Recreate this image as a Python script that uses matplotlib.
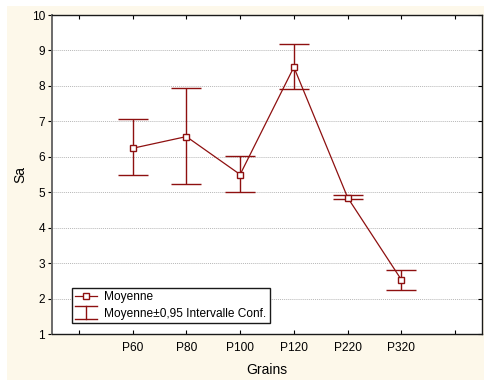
import matplotlib.pyplot as plt
import numpy as np
from matplotlib.legend_handler import HandlerBase
from matplotlib.lines import Line2D
from matplotlib.patches import Rectangle

plt.rcParams['font.family'] = ['Liberation Sans', 'DejaVu Sans']

# Data
grains = ['P60', 'P80', 'P100', 'P120', 'P220', 'P320']
moyenne = [6.24, 6.57, 5.50, 8.53, 4.85, 2.53]
ic_bas = [5.48, 5.24, 5.00, 7.90, 4.80, 2.25]
ic_haut = [7.06, 7.93, 6.02, 9.17, 4.92, 2.81]

red = '#8e1010'
cream = '#fdf8ea'


class HandlerCI(HandlerBase):
    """ 'I' shaped legend key: vertical bar with wide caps """
    def create_artists(self, legend, orig_handle, xdescent, ydescent,
                       width, height, fontsize, trans):
        x0, x1 = -xdescent, -xdescent + width
        xm = (x0 + x1) / 2
        y0, y1 = -ydescent - 0.25 * height, -ydescent + 1.25 * height
        kw = dict(color=red, lw=1.0, transform=trans)
        return [Line2D([xm, xm], [y0, y1], **kw),
                Line2D([x0, x1], [y0, y0], **kw),
                Line2D([x0, x1], [y1, y1], **kw)]


fig = plt.figure(figsize=(4.84, 3.8), dpi=100, facecolor=cream)
# thin white strip on top and left edges
fig.patches.append(Rectangle((0, 0.984), 1, 0.016, transform=fig.transFigure,
                             facecolor='white', edgecolor='none', zorder=0))
fig.patches.append(Rectangle((0, 0), 0.014, 1, transform=fig.transFigure,
                             facecolor='white', edgecolor='none', zorder=0))

ax = fig.add_axes([0.1074, 0.121, 0.8885, 0.8395])
ax.set_facecolor('white')

x = np.arange(1, len(grains) + 1)
means = np.array(moyenne)
yerr = [means - np.array(ic_bas), np.array(ic_haut) - means]

ax.errorbar(x, means, yerr=yerr, fmt='none', ecolor=red, elinewidth=1.0,
            capsize=11, capthick=1.0, zorder=3)
ax.plot(x, means, '-s', color=red, lw=0.9, ms=4, mfc='white', mec=red,
        mew=1.0, zorder=4)

ax.set_xlim(-0.5, 7.5)
ax.set_ylim(1, 10)
ax.set_xticks(np.arange(0, 8))
ax.set_xticklabels([''] + grains + [''], fontsize=8.6)
ax.set_yticks(np.arange(1, 11))
ax.set_yticklabels([str(v) for v in range(1, 11)], fontsize=8.6)
ax.tick_params(axis='x', direction='in', top=True, length=3, width=0.8, pad=6)
ax.tick_params(axis='y', direction='out', length=3, width=0.8, pad=2)
ax.tick_params(axis='y', which='both', right=True)
for t in ax.yaxis.get_ticklines()[1::2]:
    t.set_marker(0)  # right ticks pointing inward

for y in range(2, 10):
    ax.axhline(y, color='#b8b8b8', lw=0.7, ls=(0, (1, 1)), zorder=1)

for s in ax.spines.values():
    s.set_color('#1a1a1a')
    s.set_linewidth(1.0)
ax.spines['left'].set_color('#6a6a6a')
ax.spines['left'].set_linewidth(1.4)

ax.set_xlabel('Grains', fontsize=10, labelpad=6)
ax.set_ylabel('Sa', fontsize=10, labelpad=3)

h1 = Line2D([], [], color=red, lw=0.9, marker='s', ms=4, mfc='white',
            mec=red, mew=1.0)
h2 = Line2D([], [], color=red)
leg = ax.legend([h1, h2], ['Moyenne', 'Moyenne\u00b10,95 Intervalle Conf.'],
                handler_map={h2: HandlerCI()}, loc='lower left',
                bbox_to_anchor=(0.046, 0.034), borderaxespad=0,
                fontsize=8.6, fancybox=False, framealpha=1,
                edgecolor='#1a1a1a', handlelength=1.8, handletextpad=0.6,
                borderpad=0.3, labelspacing=0.35)
leg.get_frame().set_linewidth(1.0)

fig.savefig('out.png', dpi=100, facecolor=cream)
